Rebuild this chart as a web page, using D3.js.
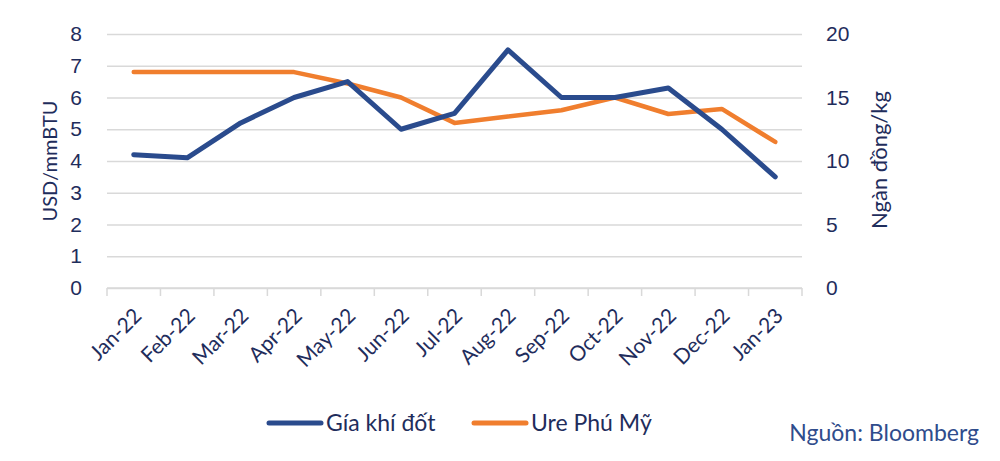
<!DOCTYPE html>
<html>
<head>
<meta charset="utf-8">
<script src="https://cdn.jsdelivr.net/npm/d3@7"></script>
<style>
  html, body { margin: 0; padding: 0; background: #fff; }
  svg { display: block; font-family: Lato, "Open Sans", sans-serif; }
</style>
</head>
<body>
<div id="chart"></div>
<script>
( function () {
	'use strict';

	// ─── Data ────────────────────────────────────────────────────────────────
	var months   = [ 'Jan-22', 'Feb-22', 'Mar-22', 'Apr-22', 'May-22', 'Jun-22', 'Jul-22',
	                 'Aug-22', 'Sep-22', 'Oct-22', 'Nov-22', 'Dec-22', 'Jan-23' ];
	var gasPrice = [ 4.2, 4.1, 5.2, 6.0, 6.5, 5.0, 5.5, 7.5, 6.0, 6.0, 6.3, 5.0, 3.5 ];
	var urePrice = [ 17, 17, 17, 17, 16.1, 15, 13, 13.5, 14, 15, 13.7, 14.1, 11.5 ];
	var leftTicks  = [ 0, 1, 2, 3, 4, 5, 6, 7, 8 ];
	var rightTicks = [ 0, 5, 10, 15, 20 ];
	var seriesNames = [ 'Gía khí đốt', 'Ure Phú Mỹ' ];

	var COLORS = {
		gas:  '#2a4b8d',
		ure:  '#f07e2e',
		grid: '#d9d9d9',
		text: '#1f2d5c',
		src:  '#2f4c8c'
	};

	var width = 1000, height = 461;
	var margin = { top: 34, right: 198, bottom: 173, left: 107 };
	var iw = width - margin.left - margin.right;
	var ih = height - margin.top - margin.bottom;

	var svg = d3.select( '#chart' ).append( 'svg' )
		.attr( 'width', width )
		.attr( 'height', height );
	var g = svg.append( 'g' )
		.attr( 'transform', 'translate(' + margin.left + ',' + margin.top + ')' );

	var x = d3.scaleBand().domain( months ).range( [ 0, iw ] );
	var yL = d3.scaleLinear().domain( [ 0, 8 ] ).range( [ ih, 0 ] );
	var yR = d3.scaleLinear().domain( [ 0, 20 ] ).range( [ ih, 0 ] );

	// Grid + left axis.
	g.append( 'g' )
		.call( d3.axisLeft( yL ).tickValues( leftTicks ).tickSize( -iw ).tickPadding( 25 ) )
		.call( function ( s ) {
			s.select( '.domain' ).remove();
			s.selectAll( 'line' ).attr( 'stroke', COLORS.grid ).attr( 'stroke-width', 1.5 );
			s.selectAll( 'text' ).attr( 'fill', COLORS.text ).style( 'font-size', '21px' );
		} );

	// Right axis.
	g.append( 'g' )
		.attr( 'transform', 'translate(' + iw + ',0)' )
		.call( d3.axisRight( yR ).tickValues( rightTicks ).tickSize( 0 ).tickPadding( 24 ) )
		.call( function ( s ) {
			s.select( '.domain' ).remove();
			s.selectAll( 'text' ).attr( 'fill', COLORS.text ).style( 'font-size', '21px' );
		} );

	// X axis with boundary ticks.
	var xAxis = g.append( 'g' ).attr( 'transform', 'translate(0,' + ih + ')' );
	xAxis.append( 'line' )
		.attr( 'x1', 0 ).attr( 'x2', iw )
		.attr( 'stroke', COLORS.grid ).attr( 'stroke-width', 1.5 );
	xAxis.selectAll( 'line.tick' )
		.data( months.concat( [ null ] ) )
		.join( 'line' )
		.attr( 'class', 'tick' )
		.attr( 'x1', function ( d ) { return d === null ? iw : x( d ); } )
		.attr( 'x2', function ( d ) { return d === null ? iw : x( d ); } )
		.attr( 'y1', 0 ).attr( 'y2', 8 )
		.attr( 'stroke', COLORS.grid ).attr( 'stroke-width', 1.5 );
	xAxis.selectAll( 'text' )
		.data( months )
		.join( 'text' )
		.attr( 'transform', function ( d ) {
			return 'translate(' + ( x( d ) + x.bandwidth() / 2 + 4 ) + ',24) rotate(-45)';
		} )
		.attr( 'text-anchor', 'end' )
		.attr( 'dy', '0.35em' )
		.attr( 'fill', COLORS.text )
		.style( 'font-size', '21px' )
		.text( function ( d ) { return d; } );

	// Lines.
	function cx( i ) { return x( months[ i ] ) + x.bandwidth() / 2; }

	var lineGas = d3.line()
		.x( function ( d, i ) { return cx( i ); } )
		.y( function ( d ) { return yL( d ); } );
	var lineUre = d3.line()
		.x( function ( d, i ) { return cx( i ); } )
		.y( function ( d ) { return yR( d ); } );

	g.append( 'path' )
		.datum( urePrice )
		.attr( 'fill', 'none' )
		.attr( 'stroke', COLORS.ure )
		.attr( 'stroke-width', 4.5 )
		.attr( 'stroke-linejoin', 'round' )
		.attr( 'stroke-linecap', 'round' )
		.attr( 'd', lineUre );

	g.append( 'path' )
		.datum( gasPrice )
		.attr( 'fill', 'none' )
		.attr( 'stroke', COLORS.gas )
		.attr( 'stroke-width', 5 )
		.attr( 'stroke-linejoin', 'round' )
		.attr( 'stroke-linecap', 'round' )
		.attr( 'd', lineGas );

	// Axis titles.
	svg.append( 'text' )
		.attr( 'transform', 'translate(57,161) rotate(-90)' )
		.attr( 'text-anchor', 'middle' )
		.attr( 'fill', COLORS.text )
		.style( 'font-size', '20px' )
		.text( 'USD/mmBTU' );

	svg.append( 'text' )
		.attr( 'transform', 'translate(887,160) rotate(-90)' )
		.attr( 'text-anchor', 'middle' )
		.attr( 'fill', COLORS.text )
		.style( 'font-size', '22px' )
		.text( 'Ngàn đồng/kg' );

	// Legend.
	var legendItems = [
		{ label: seriesNames[ 0 ], color: COLORS.gas, x: 269 },
		{ label: seriesNames[ 1 ], color: COLORS.ure, x: 474 }
	];
	var lg = svg.append( 'g' ).selectAll( 'g' ).data( legendItems ).join( 'g' )
		.attr( 'transform', function ( d ) { return 'translate(' + d.x + ',423)'; } );
	lg.append( 'line' )
		.attr( 'x1', 0 ).attr( 'x2', 52 )
		.attr( 'stroke', function ( d ) { return d.color; } )
		.attr( 'stroke-width', 5 )
		.attr( 'stroke-linecap', 'round' );
	lg.append( 'text' )
		.attr( 'x', 57 )
		.attr( 'dy', '0.35em' )
		.attr( 'fill', COLORS.text )
		.style( 'font-size', '23px' )
		.text( function ( d ) { return d.label; } );

	// Source.
	svg.append( 'text' )
		.attr( 'x', 979 )
		.attr( 'y', 441 )
		.attr( 'text-anchor', 'end' )
		.attr( 'fill', COLORS.src )
		.style( 'font-size', '23px' )
		.text( 'Nguồn: Bloomberg' );
} )();
</script>
</body>
</html>
